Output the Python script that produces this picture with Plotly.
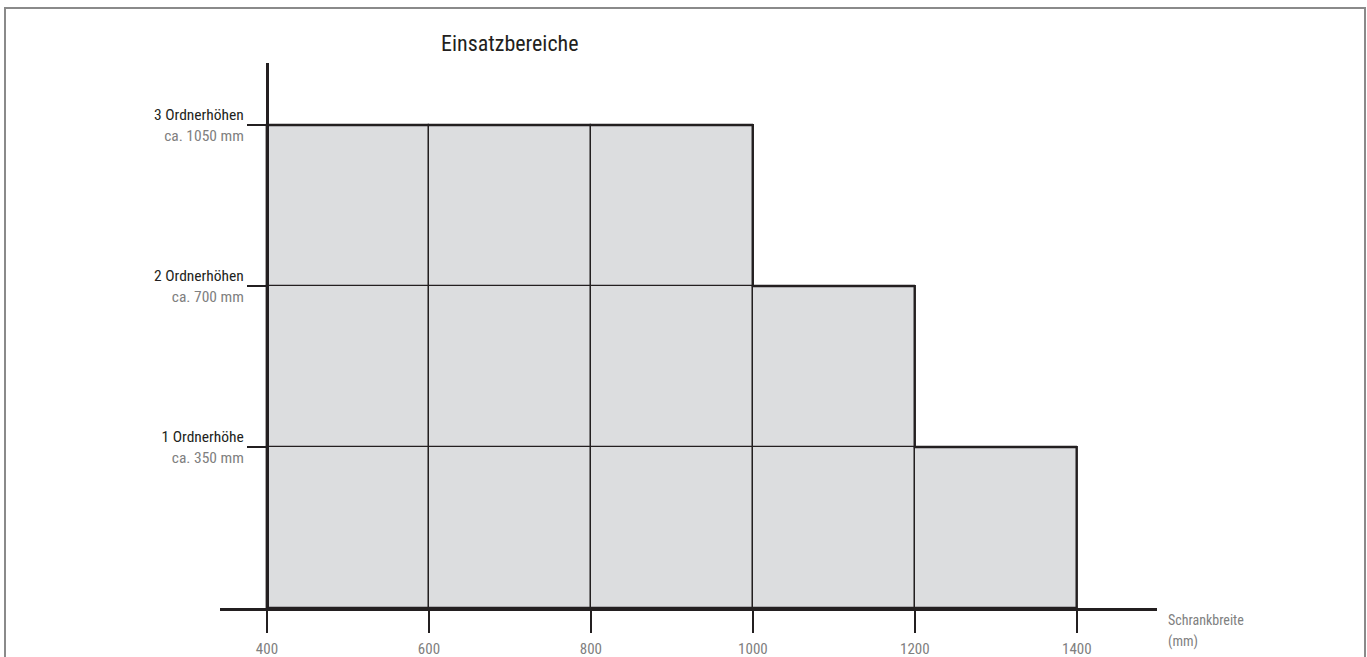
import plotly.graph_objects as go

# Data
col_left = [400, 600, 800, 1000, 1200]          # Schrankbreite (mm), left edge of each column
col_width = 200
col_levels = [3, 3, 3, 2, 1]                      # number of Ordnerhöhen usable per column
level_height = 350                                # mm per Ordnerhöhe
x_ticks = [400, 600, 800, 1000, 1200, 1400]
y_ticks = [350, 700, 1050]
y_labels_main = ["1 Ordnerhöhe", "2 Ordnerhöhen", "3 Ordnerhöhen"]
y_labels_sub = ["ca. 350 mm", "ca. 700 mm", "ca. 1050 mm"]

FONT = "Liberation Sans Narrow, Roboto Condensed, Arial Narrow, Roboto, sans-serif"
DARK = "#231f20"
GRAY = "#808080"
FILL = "#dcdddf"

fig = go.Figure()

for lvl in range(1, max(col_levels) + 1):
    xs = [c + col_width / 2 for c, n in zip(col_left, col_levels) if n >= lvl]
    fig.add_trace(go.Bar(
        x=xs,
        y=[level_height] * len(xs),
        base=[(lvl - 1) * level_height] * len(xs),
        width=[col_width] * len(xs),
        marker=dict(color=FILL, line=dict(color=DARK, width=1.3)),
        hoverinfo="skip",
        showlegend=False,
    ))

# outer staircase outline, derived from the column data
ox, oy = [col_left[0]], [0]
for c, n in zip(col_left, col_levels):
    ox += [c, c + col_width]
    oy += [n * level_height, n * level_height]
ox += [col_left[-1] + col_width]
oy += [0]
fig.add_trace(go.Scatter(x=ox, y=oy, mode="lines", line=dict(color=DARK, width=2.2),
                         hoverinfo="skip", showlegend=False))

ticktext = [f"<span style='color:{DARK}'>{m}</span><br><span style='color:{GRAY}'>{s}</span>"
            for m, s in zip(y_labels_main, y_labels_sub)]

L, R, T, B = 220, 210, 63, 49
W, H = 1367, 657
pw, ph = W - L - R, H - T - B

def px(p):
    return (p - L) / pw

def py(p):
    return (H - B - p) / ph

xr = [342, 1499]
yaxis_pos = (400 - xr[0]) / (xr[1] - xr[0])

fig.update_layout(
    width=W, height=H,
    margin=dict(l=L, r=R, t=T, b=B, autoexpand=False),
    paper_bgcolor="white", plot_bgcolor="white",
    barmode="overlay",
    bargap=0,
    font=dict(family=FONT, size=15, color=DARK),
    xaxis=dict(
        range=xr, showgrid=False, zeroline=False, automargin=False,
        showline=True, linewidth=3, linecolor=DARK,
        ticks="outside", ticklen=22, tickwidth=1.5, tickcolor=DARK,
        ticklabelstandoff=3,
        tickvals=x_ticks, ticktext=[str(v) for v in x_ticks],
        tickfont=dict(color=GRAY, size=15, family=FONT),
        fixedrange=True,
    ),
    yaxis=dict(
        range=[0, 1185], showgrid=False, zeroline=False, automargin=False,
        anchor="free", position=yaxis_pos,
        showline=True, linewidth=3, linecolor=DARK,
        ticks="outside", ticklen=19, tickwidth=1.5, tickcolor=DARK,
        tickvals=y_ticks, ticktext=ticktext,
        tickfont=dict(size=15.5, family=FONT, color=DARK),
        fixedrange=True,
    ),
    shapes=[dict(
        type="rect", xref="paper", yref="paper",
        x0=px(5), x1=px(1365), y0=py(680), y1=py(8),
        line=dict(color="#8a8a8a", width=2), fillcolor="rgba(0,0,0,0)", layer="below",
    )],
    annotations=[
        dict(text="Einsatzbereiche", xref="paper", yref="paper",
             x=px(510), y=py(44), xanchor="center", yanchor="middle",
             showarrow=False, font=dict(size=22, color=DARK, family=FONT)),
        dict(text="Schrankbreite", xref="paper", yref="paper",
             x=px(1166), y=py(620), xanchor="left", yanchor="middle",
             showarrow=False, font=dict(size=14, color=GRAY, family=FONT)),
        dict(text="(mm)", xref="paper", yref="paper",
             x=px(1166), y=py(641), xanchor="left", yanchor="middle",
             showarrow=False, font=dict(size=14, color=GRAY, family=FONT)),
    ],
)

post = """
var de=document.documentElement, b=document.body;
de.style.margin='0'; de.style.overflow='hidden';
b.style.margin='0'; b.style.overflow='hidden';
"""

fig.write_html("out.html", config={"displayModeBar": False}, post_script=post)
